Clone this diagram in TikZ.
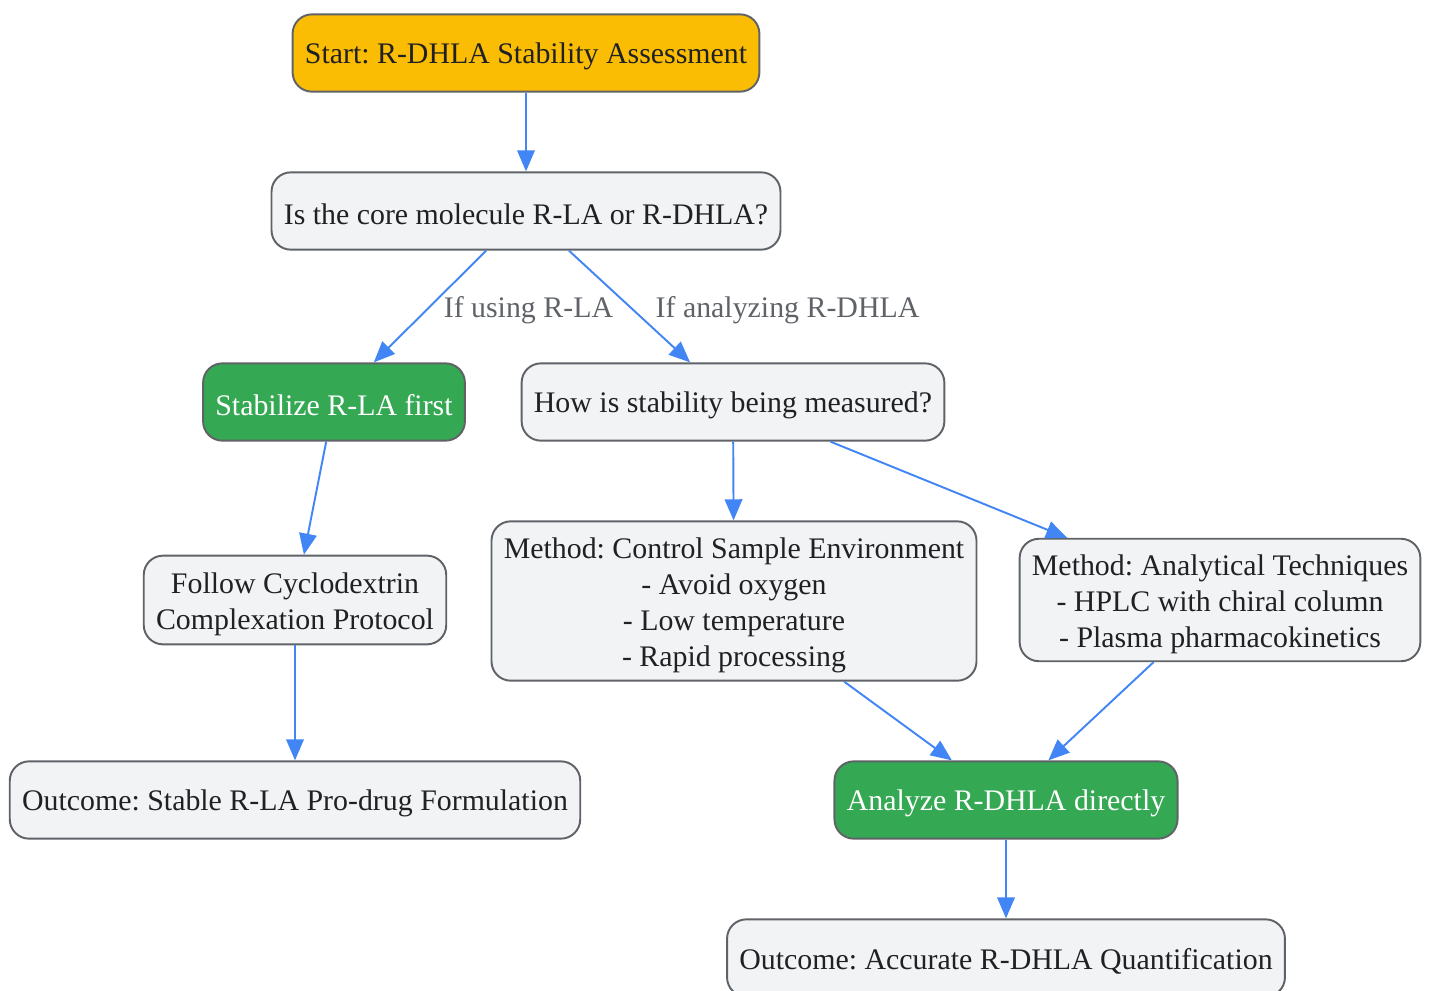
\documentclass[tikz,border=0pt]{standalone}
\usepackage{fontspec}
\setmainfont{Liberation Serif}
\usepackage{xcolor}
\usetikzlibrary{
    arrows.meta,
    positioning
}
\definecolor{startyellow}{HTML}{FBBC04}
\definecolor{actgreen}{HTML}{34A853}
\definecolor{boxgray}{HTML}{F1F3F4}
\definecolor{edgegray}{HTML}{5F6368}
\definecolor{flowblue}{HTML}{4285F4}
\definecolor{ink}{HTML}{202124}
\frenchspacing
\newcommand{\toppad}{\rule{0pt}{17pt}}

\begin{document}
\begin{tikzpicture}[x=0.02cm, y=-0.02cm,
        font=\fontsize{17}{20.4}\selectfont,
        box/.style={draw=edgegray, line width=1.1pt, fill=boxgray, text=ink,
            rounded corners=11pt, align=center, inner xsep=7pt, inner ysep=4pt,
            minimum height=44pt, execute at begin node={\rule{0pt}{16pt}}},
        startbox/.style={box, fill=startyellow},
        actbox/.style={box, fill=actgreen, text=white},
        flow/.style={draw=flowblue, line width=1.1pt,
            -{Triangle[length=12pt, width=10pt]}},
        lbl/.style={text=edgegray, yshift=-2pt}]
    \useasboundingbox (0, 0) rectangle (1431, 991);

    \node[startbox] (start) at (526, 53) {Start: R-DHLA Stability Assessment};
    \node[box] (core) at (526, 211) {Is the core molecule R-LA or R-DHLA?};
    \node[actbox] (rla) at (334, 402) {Stabilize R-LA first};
    \node[box] (how) at (733, 402) {How is stability being measured?};
    \node[box, minimum height=50.5pt] (cyclo) at (295, 600) {\toppad Follow Cyclodextrin\\Complexation Protocol};
    \node[box, minimum height=90.7pt] (env) at (734, 601) {\toppad Method: Control Sample Environment\\- Avoid oxygen\\- Low temperature\\- Rapid processing};
    \node[box, minimum height=69.7pt] (tech) at (1220, 600) {\toppad Method: Analytical Techniques\\- HPLC with chiral column\\- Plasma pharmacokinetics};
    \node[box] (outrla) at (295, 800) {Outcome: Stable R-LA Pro-drug Formulation};
    \node[actbox] (direct) at (1006, 800) {Analyze R-DHLA directly};
    \node[box] (outdhla) at (1006, 958) {Outcome: Accurate R-DHLA Quantification};

    \draw
    (start) edge[flow] (core)
    (core) edge[flow, right] node[lbl, xshift=4pt]{If using R-LA} (rla)
    (core) edge[flow, right] node[lbl, xshift=11pt]{If analyzing R-DHLA} (how)
    (rla) edge[flow] (cyclo)
    (cyclo) edge[flow] (outrla)
    (how) edge[flow] (env)
    (how) edge[flow] (tech)
    (env) edge[flow] (direct)
    (tech) edge[flow] (direct)
    (direct) edge[flow] (outdhla);
\end{tikzpicture}
\end{document}
